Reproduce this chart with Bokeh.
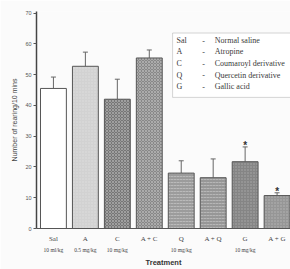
from bokeh.plotting import figure
from bokeh.models import FixedTicker, BoxAnnotation, Whisker, TeeHead, ColumnDataSource, Range1d, LinearAxis
from bokeh.core.properties import value
from bokeh.embed import file_html
from bokeh.resources import INLINE

categories = ["Sal", "A", "C", "A + C", "Q", "A + Q", "G", "A + G"]
doses = ["10 ml/kg", "0.5 mg/kg", "10 mg/kg", "", "10 mg/kg", "", "10 mg/kg", ""]
means = [45.5, 52.7, 42.0, 55.4, 18.0, 16.5, 21.7, 10.7]
errors = [3.7, 4.6, 6.5, 2.6, 4.0, 6.1, 4.8, 0.9]
significant = [False, False, False, False, False, False, True, True]
legend_abbr = ["Sal", "A", "C", "Q", "G"]
legend_desc = ["Normal saline", "Atropine", "Coumaroyl derivative", "Quercetin derivative", "Gallic acid"]
y_ticks = [0, 10, 20, 30, 40, 50, 60, 70]

fills = ["#ffffff", "#d2d2d2", "#767676", "#888888", "#9c9c9c", "#979797", "#858585", "#969696"]
hatches = [" ", "dot", "diagonal_cross", "diagonal_cross", "horizontal_dash", "horizontal_dash", "dot", "dot"]

xs = list(range(len(categories)))
src = ColumnDataSource(dict(x=xs, top=means, upper=[m + e for m, e in zip(means, errors)],
                            fill=fills, hatch=hatches))

p = figure(width=290, height=269, output_backend="svg", toolbar_location=None,
           x_range=Range1d(-0.53, 7.42), y_range=Range1d(0, 70.5),
           min_border_left=36, min_border_right=0, min_border_top=11, min_border_bottom=0)
p.outline_line_color = None
p.xgrid.grid_line_color = None
p.ygrid.grid_line_color = None
p.background_fill_color = "#fbfbfb"
p.border_fill_color = "#fbfbfb"

p.vbar(x="x", top="top", width=0.81, source=src, fill_color="fill", line_color="#555555",
       line_width=1, hatch_pattern="hatch", hatch_color="#ffffff", hatch_alpha=0.3, hatch_scale=3)

w = Whisker(base="x", upper="upper", lower="top", source=src, line_color="#666666", line_width=1,
            upper_head=TeeHead(size=5, line_color="#666666", line_width=1), lower_head=None)
p.add_layout(w)

star_x = [x for x, s in zip(xs, significant) if s]
star_y = [m + e + 0.4 for m, e, s in zip(means, errors, significant) if s]
p.text(x=star_x, y=star_y, text=["*"] * len(star_x), text_align="center", text_baseline="middle",
       text_font_size="10px", text_color="#333333", text_font_style="bold")

# legend box
p.add_layout(BoxAnnotation(left=3.73, right=8.0, top=63.5, bottom=42.6, fill_color="#ffffff",
                           fill_alpha=1, line_color="#777777", line_width=1, level="underlay"))
ly = [61.0, 57.4, 53.6, 49.8, 46.1]
p.text(x=[3.85] * 5, y=ly, text=legend_abbr, text_font=value("Liberation Serif"), text_font_size="8px",
       text_baseline="middle", text_color="#3a3a3a")
p.text(x=[4.66] * 5, y=ly, text=["-"] * 5, text_font=value("Liberation Serif"), text_font_size="8px",
       text_baseline="middle", text_color="#3a3a3a")
p.text(x=[5.05] * 5, y=ly, text=legend_desc, text_font=value("Liberation Serif"), text_font_size="8px",
       text_baseline="middle", text_color="#3a3a3a")

# y axis
p.yaxis.ticker = FixedTicker(ticks=y_ticks)
p.yaxis.axis_label = "Number of rearing/10 mins"
p.yaxis.axis_label_text_font = "Liberation Sans"
p.yaxis.axis_label_text_font_size = "7px"
p.yaxis.axis_label_text_font_style = "normal"
p.yaxis.axis_label_text_color = "#444444"
p.yaxis.axis_label_standoff = 4
p.yaxis.major_label_text_font_size = "5.5px"
p.yaxis.major_label_text_color = "#555555"
p.yaxis.major_label_standoff = 2
p.yaxis.major_tick_out = 3
p.yaxis.major_tick_in = 0
p.yaxis.minor_tick_out = 0
p.yaxis.minor_tick_in = 0
p.yaxis.axis_line_width = 1.5
p.yaxis.axis_line_color = "#444444"
p.yaxis.major_tick_line_color = "#555555"

# x axis: category names
p.xaxis.ticker = FixedTicker(ticks=xs)
p.xaxis.major_label_overrides = {i: c for i, c in enumerate(categories)}
p.xaxis.major_label_text_font = "Liberation Serif"
p.xaxis.major_label_text_font_size = "7px"
p.xaxis.major_label_text_color = "#444444"
p.xaxis.major_label_standoff = 6
p.xaxis.major_tick_out = 0
p.xaxis.major_tick_in = 0
p.xaxis.minor_tick_out = 0
p.xaxis.axis_line_color = "#555555"

# second x axis: doses + title
dose_axis = LinearAxis(ticker=FixedTicker(ticks=xs),
                       major_label_overrides={i: d for i, d in enumerate(doses)})
dose_axis.axis_line_color = None
dose_axis.major_tick_line_color = None
dose_axis.minor_tick_line_color = None
dose_axis.major_tick_out = 0
dose_axis.major_tick_in = 0
dose_axis.minor_tick_out = 0
dose_axis.major_label_text_font = "Liberation Serif"
dose_axis.major_label_text_font_size = "5.5px"
dose_axis.major_label_text_color = "#444444"
dose_axis.major_label_standoff = 1
dose_axis.axis_label = "Treatment"
dose_axis.axis_label_text_font = "Liberation Sans"
dose_axis.axis_label_text_font_size = "7.5px"
dose_axis.axis_label_text_font_style = "bold"
dose_axis.axis_label_text_color = "#333333"
dose_axis.axis_label_standoff = 2
p.add_layout(dose_axis, "below")

open("out.html", "w").write(file_html(p, INLINE))
